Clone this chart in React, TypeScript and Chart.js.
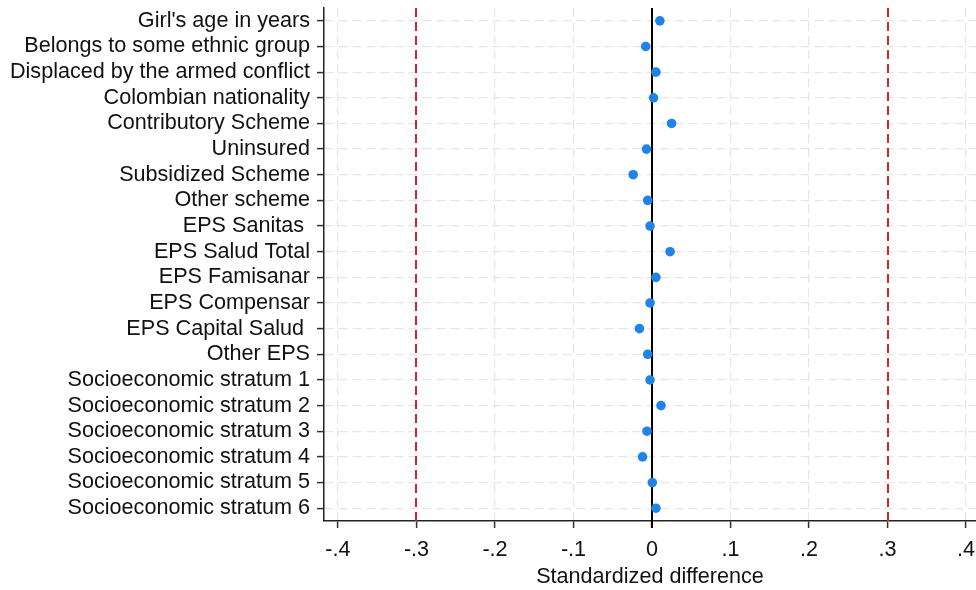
import React, { useEffect, useRef } from "react";
import { Chart, registerables } from "chart.js";

Chart.register(...registerables);

const CATEGORIES = [
  "Girl's age in years",
  "Belongs to some ethnic group",
  "Displaced by the armed conflict",
  "Colombian nationality",
  "Contributory Scheme",
  "Uninsured",
  "Subsidized Scheme",
  "Other scheme",
  "EPS Sanitas ",
  "EPS Salud Total",
  "EPS Famisanar",
  "EPS Compensar",
  "EPS Capital Salud ",
  "Other EPS",
  "Socioeconomic stratum 1",
  "Socioeconomic stratum 2",
  "Socioeconomic stratum 3",
  "Socioeconomic stratum 4",
  "Socioeconomic stratum 5",
  "Socioeconomic stratum 6",
];

const STD_DIFF = [
  0.010, -0.008, 0.005, 0.002, 0.025, -0.007, -0.024, -0.0055, -0.0025, 0.023,
  0.005, -0.0025, -0.016, -0.0055, -0.0025, 0.0115, -0.0064, -0.012, 0.0004, 0.005,
];

const X_TICKS = [-0.4, -0.3, -0.2, -0.1, 0, 0.1, 0.2, 0.3, 0.4];
const X_TICK_LABELS = ["-.4", "-.3", "-.2", "-.1", "0", ".1", ".2", ".3", ".4"];
const X_MIN = -0.4178;
const X_MAX = 0.4127;

const ZERO_LINE = [0];
const THRESHOLD_LINES = [-0.3, 0.3];

const FONT = "'Liberation Sans', Arial, sans-serif";

const refLinesPlugin = {
  id: "refLines",
  beforeDatasetsDraw(chart: any) {
    const { ctx, chartArea, scales } = chart;
    const xs = scales.x;
    ctx.save();
    THRESHOLD_LINES.forEach((v) => {
      const px = Math.round(xs.getPixelForValue(v));
      ctx.strokeStyle = "#d8232a";
      ctx.lineWidth = 2;
      ctx.setLineDash([9, 5]);
      ctx.beginPath();
      ctx.moveTo(px, chartArea.top);
      ctx.lineTo(px, chartArea.bottom);
      ctx.stroke();
    });
    ZERO_LINE.forEach((v) => {
      const px = xs.getPixelForValue(v);
      ctx.strokeStyle = "#000000";
      ctx.lineWidth = 2;
      ctx.setLineDash([]);
      ctx.beginPath();
      ctx.moveTo(px, chartArea.top);
      ctx.lineTo(px, chartArea.bottom + 7);
      ctx.stroke();
    });
    ctx.restore();
  },
};

export default function App() {
  const canvasRef = useRef<HTMLCanvasElement | null>(null);

  useEffect(() => {
    if (!canvasRef.current) return;
    const chart = new Chart(canvasRef.current, {
      type: "scatter",
      data: {
        labels: CATEGORIES,
        datasets: [
          {
            data: STD_DIFF.map((v, i) => ({ x: v, y: CATEGORIES[i] })),
            backgroundColor: "#1e84ec",
            borderWidth: 0,
            pointRadius: 4.8,
            pointHoverRadius: 4.8,
          },
        ],
      },
      options: {
        animation: false,
        responsive: false,
        maintainAspectRatio: false,
        layout: { autoPadding: false, padding: { top: 8, left: 0, right: 0, bottom: 0 } },
        plugins: {
          legend: { display: false },
          tooltip: { enabled: false },
        },
        scales: {
          x: {
            type: "linear",
            min: X_MIN,
            max: X_MAX,
            afterBuildTicks: (scale: any) => {
              scale.ticks = X_TICKS.map((v) => ({ value: v }));
            },
            afterFit: (scale: any) => {
              scale.height = 69;
              scale.paddingLeft = 0;
              scale.paddingRight = 0;
            },
            ticks: {
              color: "#111",
              font: { family: FONT, size: 21.6 },
              padding: 9,
              maxRotation: 0,
              autoSkip: false,
              callback: (v: any) => {
                const idx = X_TICKS.findIndex((t) => Math.abs(t - Number(v)) < 1e-9);
                return idx >= 0 ? X_TICK_LABELS[idx] : "";
              },
            },
            grid: {
              color: "#e6e6e6",
              lineWidth: 1.2,
              tickColor: "#333",
              tickLength: 7,
              tickWidth: 1.5,
            },
            border: { display: true, color: "#222", width: 1.5, dash: [9, 5] },
            title: {
              display: true,
              text: "Standardized difference",
              color: "#111",
              font: { family: FONT, size: 21.6 },
              padding: { top: 0, bottom: 0 },
            },
          },
          y: {
            type: "category",
            labels: CATEGORIES,
            offset: true,
            afterFit: (scale: any) => {
              scale.width = 324;
              scale.paddingTop = 0;
              scale.paddingBottom = 0;
            },
            ticks: {
              color: "#111",
              font: { family: FONT, size: 21.6 },
              padding: 7,
              autoSkip: false,
            },
            grid: {
              offset: false,
              color: "#e6e6e6",
              lineWidth: 1.2,
              tickColor: "#333",
              tickLength: 7,
              tickWidth: 1.5,
            },
            border: { display: true, color: "#222", width: 1.5, dash: [9, 5] },
          },
        },
      },
      plugins: [refLinesPlugin],
    });
    return () => chart.destroy();
  }, []);

  return (
    <div style={{ position: "absolute", left: 0, top: 0, width: 976, height: 590, background: "#fff" }}>
      <canvas ref={canvasRef} width={976} height={590} style={{ width: 976, height: 590, display: "block" }} />
    </div>
  );
}
